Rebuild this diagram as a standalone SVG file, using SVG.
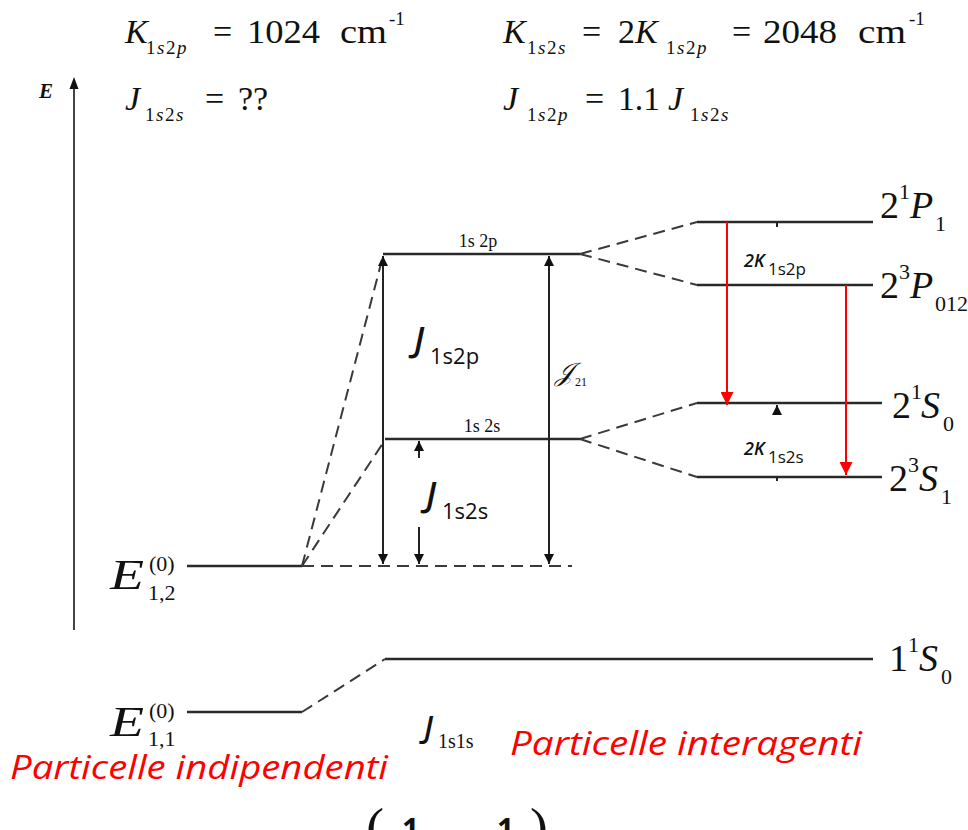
<svg xmlns="http://www.w3.org/2000/svg" width="968" height="830" viewBox="0 0 968 830">
<style>
.tm{font-family:"Liberation Serif","Times New Roman",serif;fill:#111}
.it{font-style:italic}
.sb{letter-spacing:1.5px}
.cal{font-family:"Open Sans","Liberation Sans",sans-serif;fill:#111}
.red{font-family:"Open Sans","Liberation Sans",sans-serif;font-style:italic;fill:#ff0000}
.lv{stroke:#2a2a2a;stroke-width:2.5;fill:none}
.ds{stroke:#3a3a3a;stroke-width:2;fill:none;stroke-dasharray:12 7}
.ar{stroke:#222;stroke-width:2;fill:none}
.ra{stroke:#ff0000;stroke-width:2;fill:none}
</style>
<defs>
<marker id="ah" viewBox="0 0 10 10" refX="10" refY="5" markerWidth="10" markerHeight="10" markerUnits="userSpaceOnUse" orient="auto"><path d="M0,0 L10,5 L0,10 Z" fill="#111"/></marker>
<marker id="ahs" viewBox="0 0 10 10" refX="10" refY="5" markerWidth="13" markerHeight="10" markerUnits="userSpaceOnUse" orient="auto-start-reverse"><path d="M0,0 L10,5 L0,10 Z" fill="#111"/></marker>
<marker id="ahr" viewBox="0 0 10 10" refX="10" refY="5" markerWidth="16" markerHeight="13" markerUnits="userSpaceOnUse" orient="auto"><path d="M0,0 L10,5 L0,10 Z" fill="#ff0000"/></marker>
</defs>

<!-- top formulas -->
<g id="formula-K1s2p">
<text class="tm it" x="125" y="43" font-size="34">K</text>
<text class="tm sb" x="146" y="54" font-size="19">1<tspan class="it">s</tspan>2<tspan class="it">p</tspan></text>
<text class="tm" x="213" y="43" font-size="34">=</text>
<text class="tm" x="247" y="43" font-size="33" textLength="73" lengthAdjust="spacingAndGlyphs">1024</text>
<text class="tm" x="340" y="43" font-size="33" textLength="47" lengthAdjust="spacingAndGlyphs">cm</text>
<text class="tm" x="389" y="25" font-size="19">-1</text>
</g>
<g id="formula-K1s2s">
<text class="tm it" x="503" y="43" font-size="34">K</text>
<text class="tm sb" x="527" y="54" font-size="19">1<tspan class="it">s</tspan>2<tspan class="it">s</tspan></text>
<text class="tm" x="582" y="43" font-size="34">=</text>
<text class="tm" x="618" y="43" font-size="34">2<tspan class="it">K</tspan></text>
<text class="tm sb" x="666" y="54" font-size="19">1<tspan class="it">s</tspan>2<tspan class="it">p</tspan></text>
<text class="tm" x="732" y="43" font-size="34">=</text>
<text class="tm" x="763" y="43" font-size="33" textLength="74" lengthAdjust="spacingAndGlyphs">2048</text>
<text class="tm" x="858" y="43" font-size="33" textLength="48" lengthAdjust="spacingAndGlyphs">cm</text>
<text class="tm" x="909" y="25" font-size="19">-1</text>
</g>
<g id="formula-J1s2s">
<text class="tm it" x="125" y="110" font-size="34">J</text>
<text class="tm sb" x="145" y="121" font-size="19">1<tspan class="it">s</tspan>2<tspan class="it">s</tspan></text>
<text class="tm" x="205" y="110" font-size="34">=</text>
<text class="tm" x="238" y="110" font-size="34">??</text>
</g>
<g id="formula-J1s2p">
<text class="tm it" x="503" y="110" font-size="34">J</text>
<text class="tm sb" x="527" y="121" font-size="19">1<tspan class="it">s</tspan>2<tspan class="it">p</tspan></text>
<text class="tm" x="585" y="110" font-size="34">=</text>
<text class="tm" x="618" y="110" font-size="33" textLength="42" lengthAdjust="spacingAndGlyphs">1.1</text>
<text class="tm it" x="668" y="110" font-size="34">J</text>
<text class="tm sb" x="690" y="121" font-size="19">1<tspan class="it">s</tspan>2<tspan class="it">s</tspan></text>
</g>

<!-- energy axis -->
<g id="axis">
<line x1="74" y1="630" x2="74" y2="80" stroke="#444" stroke-width="2"/>
<path d="M74,77 L69.5,89 L78.5,89 Z" fill="#111"/>
<text class="tm it" x="39" y="98" font-size="21" font-weight="bold">E</text>
</g>

<!-- levels -->
<g id="level-E12">
<line class="lv" x1="187" y1="566" x2="302" y2="566"/>
<text class="tm it" x="110" y="589" font-size="42" textLength="34" lengthAdjust="spacingAndGlyphs">E</text>
<text class="tm" x="149" y="571" font-size="22">(0)</text>
<text class="tm" x="148" y="600" font-size="22">1,2</text>
</g>
<g id="level-1s2p">
<line class="lv" x1="383" y1="254" x2="580" y2="254"/>
<text class="tm" x="478" y="247" font-size="18" text-anchor="middle">1s 2p</text>
</g>
<g id="level-1s2s">
<line class="lv" x1="385" y1="439" x2="580" y2="439"/>
<text class="tm" x="482" y="432" font-size="18" text-anchor="middle">1s 2s</text>
</g>
<g id="level-21P1">
<line class="lv" x1="697" y1="222" x2="873" y2="222"/>
<text class="tm" x="880" y="218" font-size="38">2</text>
<text class="tm" x="899" y="199" font-size="22">1</text>
<text class="tm it" x="910" y="218" font-size="38">P</text>
<text class="tm" x="935" y="231" font-size="22">1</text>
</g>
<g id="level-23P012">
<line class="lv" x1="697" y1="285" x2="873" y2="285"/>
<text class="tm" x="880" y="298" font-size="38">2</text>
<text class="tm" x="899" y="279" font-size="22">3</text>
<text class="tm it" x="910" y="298" font-size="38">P</text>
<text class="tm" x="935" y="311" font-size="22">012</text>
</g>
<g id="level-21S0">
<line class="lv" x1="697" y1="403" x2="882" y2="403"/>
<text class="tm" x="892" y="418" font-size="38">2</text>
<text class="tm" x="911" y="399" font-size="22">1</text>
<text class="tm it" x="921" y="418" font-size="38">S</text>
<text class="tm" x="943" y="431" font-size="22">0</text>
</g>
<g id="level-23S1">
<line class="lv" x1="697" y1="477" x2="882" y2="477"/>
<text class="tm" x="889" y="491" font-size="38">2</text>
<text class="tm" x="908" y="472" font-size="22">3</text>
<text class="tm it" x="919" y="491" font-size="38">S</text>
<text class="tm" x="941" y="504" font-size="22">1</text>
</g>
<g id="level-E11">
<line class="lv" x1="187" y1="712" x2="302" y2="712"/>
<text class="tm it" x="110" y="736" font-size="42" textLength="34" lengthAdjust="spacingAndGlyphs">E</text>
<text class="tm" x="149" y="718" font-size="22">(0)</text>
<text class="tm" x="148" y="746" font-size="22">1,1</text>
</g>
<g id="level-11S0">
<line class="lv" x1="385" y1="659" x2="873" y2="659"/>
<text class="tm" x="889" y="671" font-size="38">1</text>
<text class="tm" x="908" y="652" font-size="22">1</text>
<text class="tm it" x="919" y="671" font-size="38">S</text>
<text class="tm" x="941" y="684" font-size="22">0</text>
</g>

<!-- connectors -->
<g id="connectors">
<line class="ds" x1="302" y1="566" x2="572" y2="566"/>
<line class="ds" x1="302" y1="566" x2="383" y2="256"/>
<line class="ds" x1="302" y1="566" x2="385" y2="440"/>
<line class="ds" x1="580" y1="254" x2="697" y2="222"/>
<line class="ds" x1="580" y1="254" x2="697" y2="285"/>
<line class="ds" x1="580" y1="439" x2="697" y2="403"/>
<line class="ds" x1="580" y1="439" x2="697" y2="477"/>
<line class="ds" x1="302" y1="712" x2="385" y2="659" stroke-dasharray="6 5"/>
<line class="ar" x1="383" y1="256" x2="383" y2="564" marker-start="url(#ahs)" marker-end="url(#ahs)"/>
<line class="ar" x1="549" y1="256" x2="549" y2="564" stroke-width="1.5" marker-start="url(#ahs)" marker-end="url(#ahs)"/>
<line class="ar" x1="419" y1="458" x2="419" y2="441" stroke-width="1.2" marker-end="url(#ah)"/>
<line class="ar" x1="419" y1="527" x2="419" y2="564" stroke-width="1.2" marker-end="url(#ah)"/>
<line class="ar" x1="777" y1="413" x2="777" y2="405" stroke-width="1.2" marker-end="url(#ah)"/>
<line class="ar" x1="777" y1="222" x2="777" y2="227" stroke-width="2"/>
<line class="ar" x1="777" y1="477" x2="777" y2="481" stroke-width="2"/>
<line class="ra" x1="727" y1="222" x2="727" y2="405" marker-end="url(#ahr)"/>
<line class="ra" x1="846" y1="285" x2="846" y2="475" marker-end="url(#ahr)"/>
</g>

<!-- labels -->
<g id="label-J1s2p">
<text class="cal it" x="414" y="352" font-size="34" font-weight="600">J</text>
<text class="cal" x="430" y="364" font-size="22">1s2p</text>
</g>
<g id="label-J1s2s">
<text class="cal it" x="426" y="507" font-size="34" font-weight="600">J</text>
<text class="cal" x="442" y="519" font-size="22">1s2s</text>
</g>
<g id="label-J21">
<text class="tm it" x="555" y="381" font-size="26">𝒥</text>
<text class="tm" x="575" y="386" font-size="12">21</text>
</g>
<g id="label-2K1s2p">
<text class="cal it" x="744" y="267" font-size="18" font-weight="600">2K</text>
<text class="cal" x="768" y="275" font-size="17">1s2p</text>
</g>
<g id="label-2K1s2s">
<text class="cal it" x="744" y="455" font-size="18" font-weight="600">2K</text>
<text class="cal" x="768" y="463" font-size="17">1s2s</text>
</g>
<g id="label-J1s1s">
<text class="cal it" x="424" y="738" font-size="30" font-weight="600">J</text>
<text class="tm" x="438" y="748" font-size="20">1s1s</text>
</g>
<g id="label-interagenti">
<text class="red" x="510" y="755" font-size="32" textLength="352" lengthAdjust="spacingAndGlyphs">Particelle interagenti</text>
</g>
<g id="label-indipendenti">
<text class="red" x="10" y="779" font-size="32" textLength="378" lengthAdjust="spacingAndGlyphs">Particelle indipendenti</text>
</g>
<g id="formula-bottom">
<text class="tm" x="366" y="846" font-size="54">(</text>
<text class="cal" x="402" y="840" font-size="30" font-weight="bold">1</text>
<text class="cal" x="497" y="840" font-size="30" font-weight="bold">1</text>
<text class="tm" x="530" y="846" font-size="54">)</text>
</g>
</svg>
